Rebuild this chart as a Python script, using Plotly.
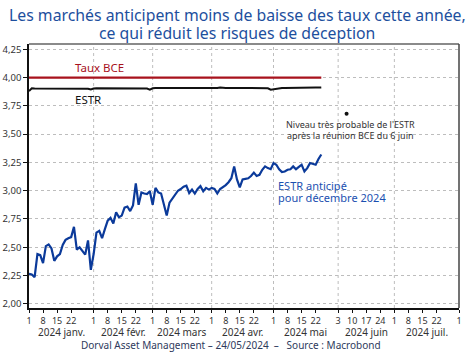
import pandas as pd
import plotly.graph_objects as go

# ---------------- data ----------------
dates = pd.bdate_range("2024-01-01", "2024-05-24")

estr = [
    # janvier
    3.880, 3.905, 3.904, 3.904, 3.905, 3.903, 3.904, 3.905, 3.905, 3.904, 3.904, 3.905,
    3.904, 3.904, 3.905, 3.905, 3.904, 3.904, 3.905, 3.904, 3.903, 3.902, 3.895,
    # février
    3.904, 3.905, 3.905, 3.906, 3.905, 3.904, 3.905, 3.905, 3.906, 3.905, 3.904, 3.905,
    3.905, 3.906, 3.905, 3.905, 3.904, 3.905, 3.904, 3.903, 3.894,
    # mars
    3.905, 3.907, 3.907, 3.908, 3.907, 3.907, 3.908, 3.908, 3.907, 3.907, 3.908, 3.907,
    3.907, 3.908, 3.907, 3.906, 3.906, 3.905, 3.905, 3.905, 3.903,
    # avril
    3.904, 3.906, 3.908, 3.913, 3.909, 3.908, 3.908, 3.909, 3.908, 3.908, 3.909, 3.908,
    3.908, 3.909, 3.908, 3.908, 3.909, 3.908, 3.907, 3.906, 3.905, 3.893,
    # mai
    3.898, 3.905, 3.908, 3.909, 3.908, 3.909, 3.909, 3.910, 3.909, 3.909, 3.910, 3.910,
    3.911, 3.911, 3.912, 3.913, 3.912, 3.913,
]

estr_dec24 = [
    # janvier
    2.265, 2.26, 2.235, 2.44, 2.43, 2.36, 2.51, 2.525, 2.49, 2.38, 2.42, 2.44,
    2.52, 2.565, 2.58, 2.59, 2.68, 2.48, 2.50, 2.47, 2.435, 2.56, 2.30,
    # février
    2.44, 2.63, 2.645, 2.58, 2.66, 2.735, 2.76, 2.71, 2.81, 2.765, 2.78, 2.85,
    2.86, 2.82, 2.87, 3.065, 2.875, 2.985, 2.975, 2.97, 2.995,
    # mars
    2.875, 3.025, 2.985, 2.975, 2.88, 2.78, 2.895, 2.93, 2.975, 3.00, 3.015, 3.035,
    3.045, 2.98, 3.01, 2.975, 3.015, 3.04, 2.995, 3.025, 3.01,
    # avril
    3.025, 3.015, 2.975, 3.015, 3.03, 3.05, 3.075, 3.11, 3.215, 3.10, 3.03, 3.10,
    3.105, 3.11, 3.13, 3.16, 3.13, 3.14, 3.185, 3.215, 3.20, 3.19,
    # mai
    3.245, 3.23, 3.19, 3.165, 3.17, 3.185, 3.19, 3.215, 3.19, 3.21, 3.23, 3.17,
    3.20, 3.245, 3.24, 3.23, 3.28, 3.32,
]

taux_bce_dates = ["2024-01-01", "2024-05-24"]
taux_bce = [4.00, 4.00]

point_date = ["2024-06-06"]
point_value = [3.68]

tick_dates = [
    "2024-01-01", "2024-01-08", "2024-01-15", "2024-01-22",
    "2024-02-01", "2024-02-08", "2024-02-15", "2024-02-22",
    "2024-03-01", "2024-03-08", "2024-03-15", "2024-03-22",
    "2024-04-01", "2024-04-08", "2024-04-15", "2024-04-22",
    "2024-05-01", "2024-05-08", "2024-05-15", "2024-05-22",
    "2024-06-03", "2024-06-10", "2024-06-17", "2024-06-24",
    "2024-07-01", "2024-07-08", "2024-07-15", "2024-07-22",
    "2024-08-01",
]
tick_text = [str(pd.Timestamp(d).day) for d in tick_dates]

month_starts = ["2024-01-01", "2024-02-01", "2024-03-01", "2024-04-01",
                "2024-05-01", "2024-06-03", "2024-07-01", "2024-08-01"]
month_labels = ["2024 janv.", "2024 févr.", "2024 mars", "2024 avr.",
                "2024 mai", "2024 juin", "2024 juil."]

y_ticks = [2.00, 2.25, 2.50, 2.75, 3.00, 3.25, 3.50, 3.75, 4.00, 4.25]

title_lines = ["Les marchés anticipent moins de baisse des taux cette année,",
               "ce qui réduit les risques de déception"]

assert len(estr) == len(dates) and len(estr_dec24) == len(dates)

# ------------- figure -------------
FONT = "Noto Sans"
BLUE = "#0b3a9a"
RED = "#a8121c"
GRID = "#bdbdbd"
TITLE_X = (237 - 29) / 430  # page centre expressed in plot-area fraction

fig = go.Figure()
fig.add_trace(go.Scatter(x=taux_bce_dates, y=taux_bce, mode="lines",
                         line=dict(color=RED, width=2.2), hoverinfo="skip"))
fig.add_trace(go.Scatter(x=dates, y=estr, mode="lines",
                         line=dict(color="#111111", width=2), hoverinfo="skip"))
fig.add_trace(go.Scatter(x=dates, y=estr_dec24, mode="lines",
                         line=dict(color=BLUE, width=2.2), hoverinfo="skip"))
fig.add_trace(go.Scatter(x=point_date, y=point_value, mode="markers",
                         marker=dict(color="#111111", size=4), hoverinfo="skip"))

# month-centre positions in business-day space
month_mid = []
for i in range(len(month_labels)):
    days = pd.bdate_range(month_starts[i], pd.Timestamp(month_starts[i + 1]) - pd.Timedelta(days=1))
    half = len(days) / 2
    k = int(half)
    month_mid.append(days[k] + pd.Timedelta(hours=24 * (half - k)))

annotations = []
for m, lab in zip(month_mid, month_labels):
    annotations.append(dict(x=m, y=0, xref="x", yref="paper", text=lab, showarrow=False,
                            yanchor="middle", yshift=-24,
                            font=dict(family=FONT, size=10, color="#333333")))

for line, shift in zip(title_lines, [29, 11.5]):
    annotations.append(dict(x=TITLE_X, y=1, xref="paper", yref="paper", text=line,
                            showarrow=False, yanchor="middle", yshift=shift,
                            font=dict(family=FONT, size=15.8, color="#1d4f9e")))

annotations += [
    dict(x="2024-02-05", y=4.085, xref="x", yref="y", text="Taux BCE", showarrow=False,
         yanchor="middle", font=dict(family=FONT, size=11.5, color=RED)),
    dict(x="2024-01-30", y=3.81, xref="x", yref="y", text="ESTR", showarrow=False,
         yanchor="middle", font=dict(family=FONT, size=11.5, color="#111111")),
    dict(x="2024-05-02", y=3.048, xref="x", yref="y", text="ESTR anticipé",
         showarrow=False, xanchor="left", yanchor="middle",
         font=dict(family=FONT, size=11, color="#1a4fb0")),
    dict(x="2024-05-02", y=2.937, xref="x", yref="y", text="pour décembre 2024",
         showarrow=False, xanchor="left", yanchor="middle",
         font=dict(family=FONT, size=11, color="#1a4fb0")),
    dict(x="2024-06-07 12:00", y=3.585, xref="x", yref="y",
         text="Niveau très probable de l'ESTR", showarrow=False, yanchor="middle",
         font=dict(family=FONT, size=9, color="#333333")),
    dict(x="2024-06-07 12:00", y=3.49, xref="x", yref="y",
         text="après la réunion BCE du 6 juin", showarrow=False, yanchor="middle",
         font=dict(family=FONT, size=9, color="#333333")),
    dict(x=(231 - 29) / 430, y=0, xref="paper", yref="paper",
         text="Dorval Asset Management – 24/05/2024  –   Source : Macrobond",
         showarrow=False, yanchor="middle", yshift=-37,
         font=dict(family=FONT, size=10, color="#2e3a5c")),
]

# vertical dotted gridlines at each month start
shapes = [dict(type="line", xref="x", yref="paper", x0=d, x1=d, y0=0, y1=1,
               layer="below", line=dict(color=GRID, width=1, dash="dot"))
          for d in month_starts[1:-1]]
shapes += [
    dict(type="line", xref="paper", yref="paper", x0=0, x1=1, y0=1, y1=1,
         line=dict(color="#8a8a8a", width=2)),
    dict(type="line", xref="paper", yref="paper", x0=1, x1=1, y0=0, y1=1,
         line=dict(color="#444444", width=1.5)),
]

fig.update_layout(
    width=474, height=357,
    margin=dict(l=29, r=15, t=44, b=49, autoexpand=False),
    paper_bgcolor="white", plot_bgcolor="white",
    showlegend=False,
    separators=",.",
    annotations=annotations,
    shapes=shapes,
)

fig.update_xaxes(
    type="date",
    autorange=False,
    range=["2024-01-01", "2024-08-01"],
    rangebreaks=[dict(bounds=["sat", "mon"])],
    tickmode="array", tickvals=tick_dates, ticktext=tick_text,
    ticks="outside", ticklen=3, tickcolor="#111111",
    showgrid=False, showline=True, linecolor="#111111", linewidth=1.5,
    tickfont=dict(family=FONT, size=9, color="#333333"),
    zeroline=False,
)
fig.update_yaxes(
    autorange=False,
    range=[1.963, 4.297],
    tickmode="array", tickvals=y_ticks, tickformat=".2f",
    ticks="outside", ticklen=4, tickcolor="#111111",
    showgrid=True, gridcolor=GRID, griddash="dot", gridwidth=1,
    showline=True, linecolor="#111111", linewidth=1.5,
    tickfont=dict(family=FONT, size=9.5, color="#333333"),
    zeroline=False,
)

fig.write_html("out.html", config={"displayModeBar": False},
               post_script="document.body.style.margin='0';")
